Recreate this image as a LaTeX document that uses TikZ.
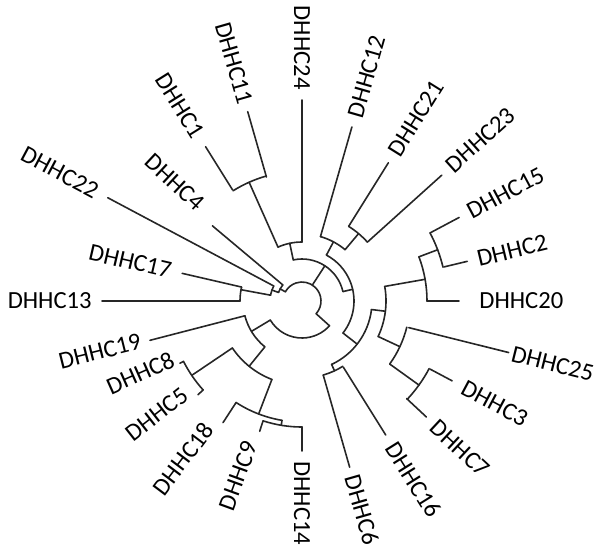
\documentclass[tikz,border=0pt]{standalone}
\usepackage{fontspec}
\setmainfont{Carlito}
\usetikzlibrary{positioning}

\begin{document}
\begin{tikzpicture}[
    x=0.5pt, y=0.5pt,
    branch/.style={line width=0.8pt, black!85, line cap=round},
    leaf_label/.style={font=\fontsize{12.3}{14}\selectfont, inner sep=0pt}
]
  \useasboundingbox (-302,-246) rectangle (295,301);

  % --- Leaves, right side (angle/base/tip/label angle/label radius/name) ---
  \foreach \a/\b/\t/\la/\lr/\n in {74/67/181/74/191/12, 58/88/163/58/173/21,
      42/88/188/42/198/23, 28/145/178/28/188/15, 13.5/146/170/13.5/180/2,
      0/125/157/0/177/20, -14/110/213/-14/216/25, -28/145/170/-28/182/3,
      -43/143/170/-43/180/7, -58/78/158/-58/168/16, -74/77/173/-74/181/6,
      -90/126/150/-90/160/14} {
    \draw[branch] (\a:\b) -- (\a:\t) coordinate (t\n);
    \node[leaf_label, rotate=\la, anchor=west] (c\n) at (\la:\lr) {DHHC\n};
  }

  % --- Leaves, left side ---
  \foreach \a/\b/\t/\la/\lr/\n in {90/59/201/90/211/24, 106/129/197/106/205/11,
      122/131/182/122/194/1, 140/25/117/137/138/4, 152/32/220/152/232/22,
      167/62/123/167/134/17, 180/62/200/180/210/13, -165.5/59/157/-166/166/19,
      -153/133/137/-156/141/8, -138/133/140/-142/148/5,
      -123/121/145/-127/155/18, -108/126/137/-110/150/9} {
    \draw[branch] (\a:\b) -- (\a:\t) coordinate (t\n);
    \node[leaf_label, rotate=\la+180, anchor=east] (c\n) at (\la:\lr) {DHHC\n};
  }

  % --- Arcs (radius/start/end) ---
  \foreach \r/\s/\e in {145/13.5/28, 125/0/20.7, 144/-43/-28, 108/-35.7/-14,
      84/-25/10, 77/-74/-58, 70/-65/-7,
      88/42/58, 67/50/74, 130/106/122, 59/90/114,
      62/167/180, 32/152/169.5, 25/140/160,
      133/-153/-138, 126/-108/-90, 121/-123/-99.5, 84/-146/-111, 59/-165.5/-129,
      19/-42/151, 37/-149/-42, 42/13/102, 52/-38/62} {
    \draw[branch] (\s:\r) arc[start angle=\s, end angle=\e, radius=\r];
  }

  % --- Inner branches (angle/from/to) ---
  \foreach \a/\p/\q in {20.7/125/145, 10/84/125, -35.7/108/144, -25/84/108,
      -7/70/84, -65/70/77, -38/52/70,
      50/67/88, 62/52/67, 114/59/130, 102/42/59,
      169.5/32/62, 160/25/32, 151/19/25,
      -146/84/133, -99.5/121/126, -111/84/121, -129/59/84, -149/37/59,
      -42/19/37, 57/19/42, 13/42/52} {
    \draw[branch] (\a:\p) -- (\a:\q);
  }

\end{tikzpicture}
\end{document}
